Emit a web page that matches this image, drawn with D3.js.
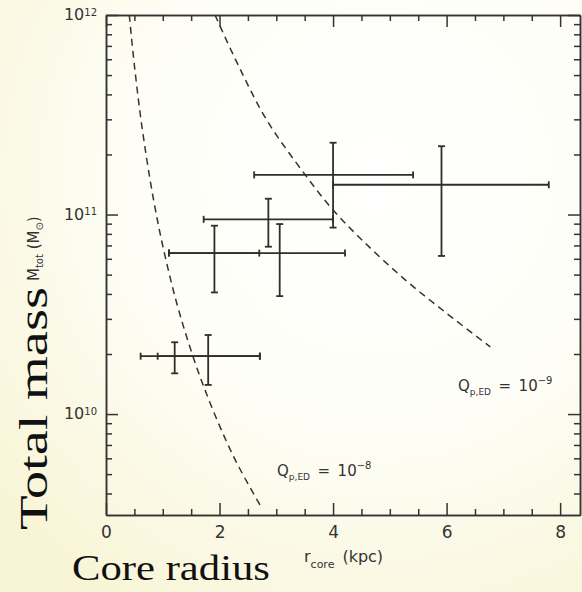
<!DOCTYPE html>
<html>
<head>
<meta charset="utf-8">
<script src="https://cdn.jsdelivr.net/npm/d3@7"></script>
<style>
  body { margin: 0; }
  svg { display: block; }
  .axis text { font-family: "DejaVu Sans", sans-serif; fill: #333; }
  .axis path, .axis line { stroke: #333; stroke-width: 1.5; }
</style>
</head>
<body>
<div id="chart"></div>
<script>
// error bar points: core radius (kpc) and total mass (Msun)
const rCore = [4.0, 5.91, 2.86, 1.91, 3.06, 1.21, 1.80];
const rLow = [2.61, 4.0, 1.72, 1.11, 1.11, 0.61, 0.91];
const rHigh = [5.41, 7.80, 4.0, 2.70, 4.21, 2.71, 2.71];
const mTot = [1.58e11, 1.41e11, 9.46e10, 6.41e10, 6.41e10, 1.95e10, 1.95e10];
const mLow = [8.6e10, 6.2e10, 6.9e10, 4.07e10, 3.9e10, 1.6e10, 1.4e10];
const mHigh = [2.29e11, 2.2e11, 1.2e11, 8.79e10, 8.96e10, 2.29e10, 2.49e10];

// dashed curves (Q_p,ED = 1e-8 and 1e-9)
const q8R = [0.41, 0.5, 0.63, 0.83, 1.04, 1.31, 1.71, 2.25, 2.74];
const q8M = [1e12, 5.6e11, 2.8e11, 1.22e11, 6.2e10, 3.1e10, 1.4e10, 6.1e9, 3.4e9];
const q9R = [1.92, 2.33, 2.83, 3.51, 3.98, 4.5, 5.24, 6.0, 6.77];
const q9M = [1e12, 5.6e11, 2.98e11, 1.58e11, 1.07e11, 7.5e10, 4.79e10, 3.2e10, 2.17e10];

const xMajor = [0, 2, 4, 6, 8];
const xMinor = [0.5, 1, 1.5, 2.5, 3, 3.5, 4.5, 5, 5.5, 6.5, 7, 7.5, 8.5];
const yMajor = [1e10, 1e11, 1e12];

const width = 582, height = 592;
const margin = {top: 15, right: 2, bottom: 77, left: 106};

const x = d3.scaleLinear().domain([0, 8.35]).range([margin.left, width - margin.right]);
const y = d3.scaleLog().domain([3.12e9, 1e12]).range([height - margin.bottom, margin.top]);
const yMinor = y.ticks().filter(v => !yMajor.includes(v));

const svg = d3.select('#chart').append('svg')
  .attr('width', width).attr('height', height);

// pale cream background like the slide
const grad = svg.append('defs').append('radialGradient')
  .attr('id', 'bg').attr('cx', '65%').attr('cy', '30%').attr('r', '85%');
grad.append('stop').attr('offset', '0%').attr('stop-color', '#ffffff');
grad.append('stop').attr('offset', '50%').attr('stop-color', '#fefef7');
grad.append('stop').attr('offset', '100%').attr('stop-color', '#f8f5d6');
svg.append('rect').attr('width', width).attr('height', height).attr('fill', 'url(#bg)');

svg.select('defs').append('clipPath').attr('id', 'clip')
  .append('rect')
  .attr('x', margin.left).attr('y', margin.top)
  .attr('width', width - margin.right - margin.left)
  .attr('height', height - margin.bottom - margin.top);

// dashed curves
const line = d3.line().x(d => x(d[0])).y(d => y(d[1])).curve(d3.curveCatmullRom);
[[q8R, q8M], [q9R, q9M]].forEach(([rs, ms]) => {
  svg.append('path')
    .attr('clip-path', 'url(#clip)')
    .attr('d', line(rs.map((r, i) => [r, ms[i]])))
    .attr('fill', 'none')
    .attr('stroke', '#333')
    .attr('stroke-width', 1.5)
    .attr('stroke-dasharray', '7,5');
});

// error bars
const bars = svg.append('g').attr('stroke', '#2f2f27').attr('stroke-width', 1.8);
const cap = 3.5;
rCore.forEach((r, i) => {
  const cx = x(r), cy = y(mTot[i]);
  bars.append('line').attr('x1', x(rLow[i])).attr('x2', x(rHigh[i])).attr('y1', cy).attr('y2', cy);
  bars.append('line').attr('x1', x(rLow[i])).attr('x2', x(rLow[i])).attr('y1', cy - cap).attr('y2', cy + cap);
  bars.append('line').attr('x1', x(rHigh[i])).attr('x2', x(rHigh[i])).attr('y1', cy - cap).attr('y2', cy + cap);
  bars.append('line').attr('x1', cx).attr('x2', cx).attr('y1', y(mLow[i])).attr('y2', y(mHigh[i]));
  bars.append('line').attr('x1', cx - cap).attr('x2', cx + cap).attr('y1', y(mLow[i])).attr('y2', y(mLow[i]));
  bars.append('line').attr('x1', cx - cap).attr('x2', cx + cap).attr('y1', y(mHigh[i])).attr('y2', y(mHigh[i]));
});

// bottom axis, ticks pointing in
const yb = height - margin.bottom;
svg.append('g').attr('class', 'axis').attr('transform', `translate(0,${yb})`)
  .call(d3.axisBottom(x).tickValues(xMinor).tickSizeInner(-6).tickSizeOuter(0).tickFormat(''));
svg.append('g').attr('class', 'axis').attr('transform', `translate(0,${yb})`)
  .call(d3.axisBottom(x).tickValues(xMajor).tickSizeInner(-12).tickSizeOuter(0).tickPadding(11))
  .selectAll('text').attr('font-size', 17);

// top axis
svg.append('g').attr('class', 'axis').attr('transform', `translate(0,${margin.top})`)
  .call(d3.axisTop(x).tickValues(xMinor).tickSizeInner(-6).tickSizeOuter(0).tickFormat(''));
svg.append('g').attr('class', 'axis').attr('transform', `translate(0,${margin.top})`)
  .call(d3.axisTop(x).tickValues(xMajor).tickSizeInner(-12).tickSizeOuter(0).tickFormat(''));

// left axis
svg.append('g').attr('class', 'axis').attr('transform', `translate(${margin.left},0)`)
  .call(d3.axisLeft(y).tickValues(yMinor).tickSizeInner(-6).tickSizeOuter(0).tickFormat(''));
const yAx = svg.append('g').attr('class', 'axis').attr('transform', `translate(${margin.left},0)`)
  .call(d3.axisLeft(y).tickValues(yMajor).tickSizeInner(-12).tickSizeOuter(0).tickPadding(9));
yAx.selectAll('text').each(function(d) {
  const t = d3.select(this).text('').attr('font-size', 16).attr('dy', '0.3em');
  t.append('tspan').text('10');
  t.append('tspan').attr('dy', '-0.45em').attr('font-size', 10).text(Math.round(Math.log10(d)));
});

// right axis
const xr = width - margin.right;
svg.append('g').attr('class', 'axis').attr('transform', `translate(${xr},0)`)
  .call(d3.axisRight(y).tickValues(yMinor).tickSizeInner(-6).tickSizeOuter(0).tickFormat(''));
svg.append('g').attr('class', 'axis').attr('transform', `translate(${xr},0)`)
  .call(d3.axisRight(y).tickValues(yMajor).tickSizeInner(-12).tickSizeOuter(0).tickFormat(''));

// curve labels
function qLabel(px, py, exp) {
  const t = svg.append('text').attr('x', px).attr('y', py)
    .attr('font-family', '"DejaVu Sans", sans-serif').attr('font-size', 15).attr('fill', '#333');
  t.append('tspan').text('Q');
  t.append('tspan').attr('font-size', 9).attr('dy', 4).text('p,ED');
  t.append('tspan').attr('dy', -4).text('\u2002=\u200210');
  t.append('tspan').attr('font-size', 10).attr('dy', -7).text(exp);
}
qLabel(458, 391, '\u22129');
qLabel(277, 476, '\u22128');

// axis titles
svg.append('text').attr('x', 72).attr('y', 580).attr('fill', '#111')
  .attr('font-family', '"Liberation Serif", serif').attr('font-size', 36)
  .attr('textLength', 198).attr('lengthAdjust', 'spacingAndGlyphs').text('Core radius');
const xs = svg.append('text').attr('x', 304).attr('y', 562)
  .attr('font-family', '"DejaVu Sans", sans-serif').attr('font-size', 16).attr('fill', '#333');
xs.append('tspan').text('r');
xs.append('tspan').attr('font-size', 11).attr('dy', 6).text('core');
xs.append('tspan').attr('dy', -6).text('\u2002(kpc)');

svg.append('text').attr('transform', 'translate(47,530) rotate(-90)')
  .attr('font-family', '"Liberation Serif", serif').attr('font-size', 39).attr('fill', '#111')
  .attr('textLength', 243).attr('lengthAdjust', 'spacingAndGlyphs').text('Total mass');
const ys = svg.append('text').attr('transform', 'translate(39,281) rotate(-90)')
  .attr('font-family', '"DejaVu Sans", sans-serif').attr('font-size', 15).attr('fill', '#333');
ys.append('tspan').text('M');
ys.append('tspan').attr('font-size', 10).attr('dy', 4).text('tot');
ys.append('tspan').attr('dy', -4).text(' (M');
ys.append('tspan').attr('font-size', 10).attr('dy', 4).text('\u2299');
ys.append('tspan').attr('dy', -4).text(')');
</script>
</body>
</html>
